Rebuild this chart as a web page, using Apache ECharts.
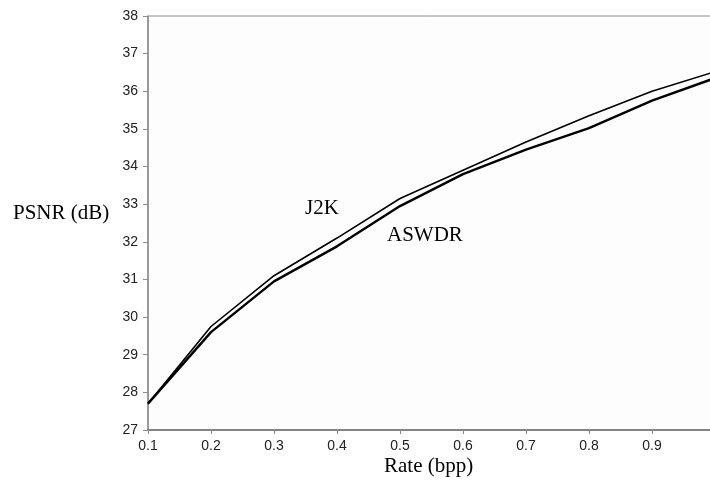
<!DOCTYPE html>
<html>
<head>
<meta charset="utf-8">
<script src="https://cdn.jsdelivr.net/npm/echarts@6/dist/echarts.min.js"></script>
<style>html,body{margin:0;padding:0;background:#fff;}#c{width:710px;height:489px;}</style>
</head>
<body>
<div id="c"></div>
<script>
var rates = [0.1, 0.2, 0.3, 0.4, 0.5, 0.6, 0.7, 0.8, 0.9, 1.0];
var j2k   = [27.7, 29.75, 31.1, 32.1, 33.15, 33.9, 34.65, 35.35, 36.0, 36.52];
var aswdr = [27.7, 29.6, 30.95, 31.88, 32.95, 33.8, 34.45, 35.02, 35.75, 36.35];

var chart = echarts.init(document.getElementById('c'));
function pairs(ys){ return rates.map(function(r,i){ return [r, ys[i]]; }); }
chart.setOption({
  animation: false,
  backgroundColor: '#ffffff',
  grid: { left: 148, top: 16, width: 567, height: 414, outerBoundsMode: 'none', containLabel: false,
          show: true, borderColor: '#8c8c8c', borderWidth: 1, backgroundColor: '#fdfdfd' },
  xAxis: {
    type: 'value', min: 0.1, max: 1.0, interval: 0.1,
    axisLine: { show: true, lineStyle: { color: '#6e6e6e', width: 1.5 } },
    axisTick: { show: true, length: 4, lineStyle: { color: '#8c8c8c' } },
    axisLabel: { fontFamily: 'Liberation Sans', fontSize: 14, color: '#222', margin: 9,
      formatter: function(v){ return v > 0.95 ? '' : v.toFixed(1); } },
    splitLine: { show: false }
  },
  yAxis: {
    type: 'value', min: 27, max: 38, interval: 1,
    axisLine: { show: true, lineStyle: { color: '#8c8c8c', width: 1.5 } },
    axisTick: { show: true, length: 5, lineStyle: { color: '#8c8c8c' } },
    axisLabel: { fontFamily: 'Liberation Sans', fontSize: 14, color: '#222', margin: 10 },
    splitLine: { show: false }
  },
  graphic: [
    { type: 'text', left: 13, top: 203, style: { text: 'PSNR (dB)', font: '21px "Liberation Serif"', fill: '#000' } },
    { type: 'text', left: 384, top: 456, style: { text: 'Rate (bpp)', font: '21px "Liberation Serif"', fill: '#000' } },
    { type: 'text', left: 305, top: 198, style: { text: 'J2K', font: '21px "Liberation Serif"', fill: '#000' } },
    { type: 'text', left: 387, top: 225, style: { text: 'ASWDR', font: '21px "Liberation Serif"', fill: '#000' } }
  ],
  series: [
    { name: 'J2K', type: 'line', data: pairs(j2k), symbol: 'none', smooth: false,
      lineStyle: { color: '#000', width: 1.6 } },
    { name: 'ASWDR', type: 'line', data: pairs(aswdr), symbol: 'none', smooth: false,
      lineStyle: { color: '#000', width: 2.4 } }
  ]
});
</script>
</body>
</html>
